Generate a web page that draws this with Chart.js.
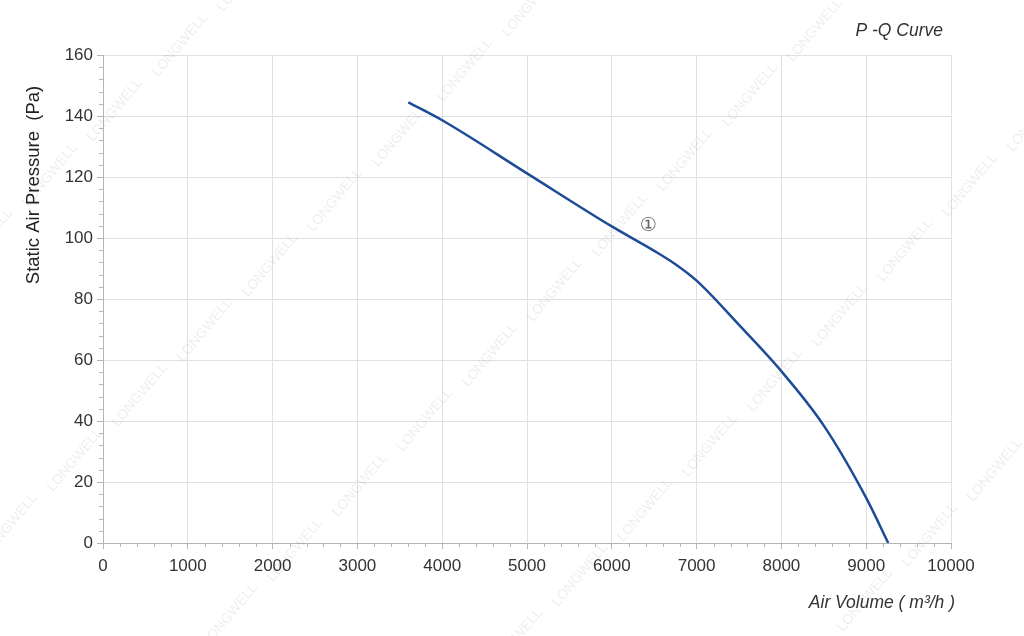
<!DOCTYPE html>
<html>
<head>
<meta charset="utf-8">
<script src="https://cdn.jsdelivr.net/npm/chart.js@4.4.1/dist/chart.umd.min.js"></script>
<style>
  body { margin: 0; background: #fff; }
  #wrap { width: 1024px; height: 636px; }
</style>
</head>
<body>
<div id="wrap"><canvas id="pq" width="1024" height="636"></canvas></div>
<script>
// P-Q curve
const airVolume = [3600, 4000, 5000, 6000, 6500, 6750, 7000, 7500, 8000, 8500, 9000, 9260];
const pressure  = [144.5, 138.6, 121.2, 103.8, 95.8, 91.4, 86.0, 71.5, 56.3, 38.5, 14.8, 0];
const xTicks = [0, 1000, 2000, 3000, 4000, 5000, 6000, 7000, 8000, 9000, 10000];
const yTicks = [0, 20, 40, 60, 80, 100, 120, 140, 160];

const FONT = '"Liberation Sans", Arial, Helvetica, sans-serif';

const points = airVolume.map(function(v, i) { return { x: v, y: pressure[i] }; });

// minor ticks, texts, watermark
const extrasPlugin = {
  id: 'extras',
  beforeDatasetsDraw: function(chart) {
    const ctx = chart.ctx;
    // watermark
    ctx.save();
    ctx.font = '14px ' + FONT;
    ctx.fillStyle = 'rgba(0,0,0,0.07)';
    ctx.textAlign = 'center';
    ctx.textBaseline = 'middle';
    for (let r = -3; r <= 4; r++) {
      for (let c = -6; c <= 8; c++) {
        const px = 400 + r * 220 - c * 65;
        const py = 135 + r * 90 + c * 65;
        if (px < -40 || px > 1070 || py < -30 || py > 670) continue;
        ctx.save();
        ctx.translate(px, py);
        ctx.rotate(-50 * Math.PI / 180);
        ctx.fillText('LONGWELL', 0, 0);
        ctx.restore();
      }
    }
    ctx.restore();
  },
  afterDraw: function(chart) {
    const ctx = chart.ctx;
    const xs = chart.scales.x, ys = chart.scales.y;
    const area = chart.chartArea;
    ctx.save();
    ctx.strokeStyle = '#b5b5b5';
    ctx.lineWidth = 1;
    ctx.beginPath();
    for (let v = 0; v <= 10000; v += 200) {
      if (v % 1000 === 0) continue;
      const px = Math.round(xs.getPixelForValue(v)) + 0.5;
      ctx.moveTo(px, area.bottom);
      ctx.lineTo(px, area.bottom + 4);
    }
    for (let p = 0; p <= 160; p += 4) {
      if (p % 20 === 0) continue;
      const py = Math.round(ys.getPixelForValue(p)) + 0.5;
      ctx.moveTo(area.left, py);
      ctx.lineTo(area.left - 4, py);
    }
    ctx.stroke();

    // y title
    ctx.fillStyle = '#222';
    ctx.font = '18.5px ' + FONT;
    ctx.textAlign = 'center';
    ctx.textBaseline = 'middle';
    ctx.save();
    ctx.translate(34, 185);
    ctx.rotate(-Math.PI / 2);
    ctx.fillText('Static Air Pressure  (Pa)', 0, 0);
    ctx.restore();

    // x title and chart title
    ctx.font = 'italic 17.5px ' + FONT;
    ctx.fillStyle = '#333';
    ctx.textAlign = 'right';
    ctx.fillText('Air Volume ( m³/h )', 955, 603);
    ctx.fillText('P -Q Curve', 943, 31);

    // curve label
    ctx.font = '19px "DejaVu Sans", ' + FONT;
    ctx.fillStyle = '#666';
    ctx.textAlign = 'center';
    ctx.fillText('①', xs.getPixelForValue(6430), ys.getPixelForValue(104));
    ctx.restore();
  }
};

new Chart(document.getElementById('pq'), {
  type: 'scatter',
  data: {
    datasets: [{
      data: points,
      showLine: true,
      borderColor: '#1d4b97',
      borderWidth: 2.5,
      pointRadius: 0,
      cubicInterpolationMode: 'monotone',
      fill: false
    }]
  },
  options: {
    responsive: false,
    animation: false,
    layout: { padding: { top: 55, right: 73, left: 0, bottom: 0 } },
    plugins: { legend: { display: false }, tooltip: { enabled: false }, title: { display: false } },
    scales: {
      x: {
        type: 'linear',
        min: 0, max: 10000,
        afterFit: function(s) { s.height = 636 - 543; },
        afterBuildTicks: function(s) { s.ticks = xTicks.map(function(v) { return { value: v }; }); },
        grid: { color: '#e0e0e0', tickColor: '#b5b5b5', tickLength: 6, lineWidth: 1 },
        border: { color: '#b5b5b5' },
        ticks: {
          color: '#333', font: { family: FONT, size: 17 }, padding: 7, maxRotation: 0,
          callback: function(v) { return String(v); }
        }
      },
      y: {
        type: 'linear',
        min: 0, max: 160,
        afterFit: function(s) { s.width = 103; },
        afterBuildTicks: function(s) { s.ticks = yTicks.map(function(v) { return { value: v }; }); },
        grid: { color: '#e0e0e0', tickColor: '#b5b5b5', tickLength: 6, lineWidth: 1 },
        border: { color: '#b5b5b5' },
        ticks: {
          color: '#333', font: { family: FONT, size: 17 }, padding: 4,
          callback: function(v) { return String(v); }
        }
      }
    }
  },
  plugins: [extrasPlugin]
});
</script>
</body>
</html>
